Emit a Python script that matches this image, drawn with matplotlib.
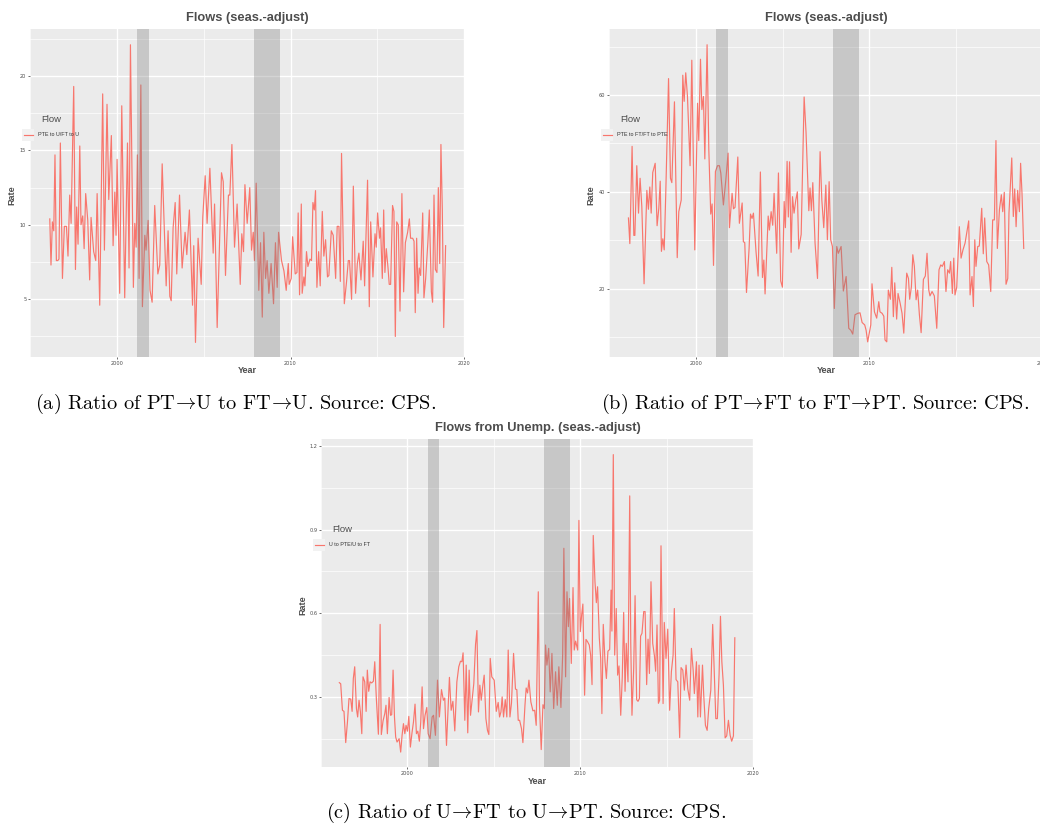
import numpy as np
import matplotlib
matplotlib.use("Agg")
import matplotlib.pyplot as plt
from matplotlib.lines import Line2D
from matplotlib.patches import Rectangle

plt.rcParams["mathtext.fontset"] = "cm"

W, H = 1040, 827

# recessions (NBER)
rec_start = [2001.17, 2007.92]
rec_end = [2001.83, 2009.42]

# (a) PTE to U / FT to U
a_year = [1996.12, 1996.19, 1996.27, 1996.35, 1996.42, 1996.50, 1996.58, 1996.65, 1996.73, 1996.85,
          1996.96, 1997.08, 1997.17, 1997.27, 1997.35, 1997.50, 1997.60, 1997.67, 1997.75, 1997.85,
          1997.92, 1998.02, 1998.10, 1998.19, 1998.31, 1998.42, 1998.50, 1998.65, 1998.77, 1998.85,
          1999.00, 1999.17, 1999.27, 1999.42, 1999.52, 1999.67, 1999.77, 1999.87, 1999.94, 2000.00,
          2000.15, 2000.27, 2000.44, 2000.60, 2000.69, 2000.77, 2000.94, 2001.02, 2001.10, 2001.17,
          2001.27, 2001.37, 2001.46, 2001.60, 2001.67, 2001.79, 2001.90, 2002.02, 2002.17, 2002.35,
          2002.46, 2002.60, 2002.83, 2002.94, 2003.04, 2003.12, 2003.23, 2003.35, 2003.44, 2003.60,
          2003.75, 2003.92, 2004.02, 2004.17, 2004.35, 2004.42, 2004.52, 2004.67, 2004.85, 2004.94,
          2005.08, 2005.19, 2005.35, 2005.54, 2005.62, 2005.77, 2006.02, 2006.12, 2006.25, 2006.42,
          2006.50, 2006.62, 2006.77, 2006.92, 2007.10, 2007.19, 2007.29, 2007.37, 2007.50, 2007.65,
          2007.75, 2007.85, 2007.92, 2008.02, 2008.17, 2008.27, 2008.37, 2008.46, 2008.56, 2008.65,
          2008.75, 2008.88, 2009.02, 2009.13, 2009.23, 2009.31, 2009.48, 2009.62, 2009.75, 2009.87,
          2009.92, 2010.04, 2010.12, 2010.27, 2010.37, 2010.44, 2010.52, 2010.62, 2010.67, 2010.77,
          2010.83, 2010.92, 2011.00, 2011.12, 2011.21, 2011.29, 2011.37, 2011.44, 2011.52, 2011.62,
          2011.71, 2011.83, 2011.92, 2012.02, 2012.13, 2012.21, 2012.35, 2012.46, 2012.60, 2012.69,
          2012.79, 2012.87, 2012.94, 2013.10, 2013.23, 2013.33, 2013.40, 2013.52, 2013.62, 2013.75,
          2013.85, 2013.94, 2014.06, 2014.19, 2014.27, 2014.44, 2014.54, 2014.62, 2014.75, 2014.87,
          2014.94, 2015.02, 2015.13, 2015.19, 2015.29, 2015.37, 2015.44, 2015.52, 2015.62, 2015.69,
          2015.77, 2015.88, 2015.96, 2016.04, 2016.12, 2016.21, 2016.31, 2016.42, 2016.52, 2016.62,
          2016.75, 2016.85, 2016.92, 2017.04, 2017.12, 2017.19, 2017.27, 2017.35, 2017.42, 2017.50,
          2017.62, 2017.69, 2017.79, 2017.92, 2018.00, 2018.12, 2018.19, 2018.27, 2018.35, 2018.44,
          2018.52, 2018.60, 2018.67, 2018.75, 2018.83, 2018.94]
a_rate = [10.4, 7.3, 10.2, 9.6, 14.7, 7.6, 7.6, 7.7, 15.5, 6.4,
          9.9, 9.9, 7.9, 12.0, 10.1, 19.3, 7.0, 11.2, 8.7, 15.3,
          10.0, 10.6, 8.4, 12.1, 10.3, 6.3, 10.5, 8.2, 7.6, 12.1,
          4.6, 18.8, 8.3, 18.1, 11.7, 16.0, 8.6, 12.2, 9.3, 14.4,
          5.4, 18.0, 5.1, 15.5, 7.1, 22.1, 5.8, 10.1, 8.5, 14.7,
          6.4, 19.4, 4.5, 9.3, 8.3, 10.3, 5.6, 4.8, 11.3, 6.7,
          7.3, 14.1, 5.9, 9.6, 5.2, 4.9, 9.8, 11.5, 6.7, 12.0,
          7.1, 9.5, 8.0, 11.0, 4.6, 8.6, 2.1, 9.1, 6.0, 10.5,
          13.3, 10.1, 13.8, 8.1, 11.4, 3.1, 13.5, 12.9, 6.6, 12.0,
          12.0, 15.4, 8.5, 11.4, 6.0, 9.4, 8.2, 12.7, 10.1, 12.5,
          8.3, 9.5, 7.6, 12.8, 5.6, 8.8, 3.8, 9.5, 6.4, 7.6,
          5.4, 7.4, 4.7, 8.8, 5.8, 9.5, 7.6, 6.9, 5.6, 7.4,
          6.0, 6.4, 9.2, 6.7, 6.8, 10.8, 5.3, 11.4, 5.4, 6.5,
          5.9, 8.2, 7.2, 7.7, 7.6, 11.5, 11.0, 12.3, 5.8, 8.2,
          5.9, 10.9, 7.9, 9.0, 6.5, 6.6, 9.6, 9.3, 6.4, 9.9,
          9.9, 6.2, 14.8, 4.7, 6.2, 7.6, 7.6, 5.0, 12.6, 5.4,
          7.4, 8.1, 6.3, 8.9, 5.9, 13.0, 4.5, 10.2, 6.5, 9.4,
          8.5, 10.8, 9.1, 9.8, 6.4, 11.0, 6.8, 8.4, 7.1, 6.0,
          6.0, 11.3, 10.9, 2.5, 10.2, 10.0, 4.2, 12.1, 5.5, 8.8,
          9.5, 10.4, 9.1, 9.1, 8.9, 4.1, 9.1, 5.4, 7.1, 6.6,
          10.8, 5.1, 6.4, 8.9, 11.0, 5.5, 4.8, 12.0, 7.0, 6.8,
          12.5, 7.4, 15.4, 11.0, 3.1, 8.6]

# (b) PTE to FT / FT to PTE
b_year = [1996.12, 1996.20, 1996.33, 1996.43, 1996.49, 1996.60, 1996.70, 1996.79, 1996.89, 1997.02,
          1997.18, 1997.27, 1997.35, 1997.43, 1997.52, 1997.66, 1997.77, 1997.87, 1997.95, 1998.02,
          1998.10, 1998.18, 1998.27, 1998.43, 1998.54, 1998.62, 1998.77, 1998.93, 1999.02, 1999.16,
          1999.25, 1999.33, 1999.42, 1999.52, 1999.67, 1999.77, 1999.94, 2000.10, 2000.17, 2000.27,
          2000.35, 2000.44, 2000.52, 2000.65, 2000.75, 2000.86, 2000.94, 2001.02, 2001.13, 2001.25,
          2001.36, 2001.44, 2001.59, 2001.73, 2001.86, 2001.94, 2002.09, 2002.17, 2002.26, 2002.42,
          2002.51, 2002.67, 2002.74, 2002.82, 2002.92, 2003.07, 2003.15, 2003.24, 2003.32, 2003.47,
          2003.59, 2003.72, 2003.84, 2003.92, 2003.99, 2004.17, 2004.24, 2004.34, 2004.43, 2004.51,
          2004.66, 2004.76, 2004.89, 2004.99, 2005.09, 2005.16, 2005.26, 2005.33, 2005.40, 2005.49,
          2005.57, 2005.66, 2005.76, 2005.85, 2005.93, 2006.07, 2006.24, 2006.35, 2006.51, 2006.58,
          2006.66, 2006.74, 2006.87, 2007.01, 2007.16, 2007.26, 2007.37, 2007.49, 2007.58, 2007.68,
          2007.77, 2007.87, 2007.98, 2008.12, 2008.21, 2008.37, 2008.50, 2008.66, 2008.81, 2008.93,
          2009.04, 2009.17, 2009.33, 2009.46, 2009.58, 2009.73, 2009.81, 2009.90, 2010.02, 2010.08,
          2010.15, 2010.29, 2010.42, 2010.54, 2010.61, 2010.73, 2010.83, 2010.90, 2011.00, 2011.09,
          2011.21, 2011.29, 2011.38, 2011.46, 2011.57, 2011.65, 2011.77, 2011.88, 2011.98, 2012.15,
          2012.25, 2012.32, 2012.42, 2012.50, 2012.59, 2012.69, 2012.78, 2012.88, 2012.98, 2013.11,
          2013.22, 2013.32, 2013.42, 2013.49, 2013.61, 2013.74, 2013.88, 2014.01, 2014.11, 2014.20,
          2014.32, 2014.41, 2014.51, 2014.61, 2014.68, 2014.78, 2014.86, 2014.93, 2015.03, 2015.11,
          2015.18, 2015.28, 2015.39, 2015.51, 2015.60, 2015.72, 2015.80, 2015.91, 2015.99, 2016.07,
          2016.14, 2016.24, 2016.33, 2016.47, 2016.56, 2016.64, 2016.76, 2016.87, 2016.99, 2017.10,
          2017.20, 2017.29, 2017.37, 2017.49, 2017.60, 2017.68, 2017.77, 2017.87, 2017.97, 2018.04,
          2018.20, 2018.29, 2018.37, 2018.45, 2018.54, 2018.64, 2018.71, 2018.79, 2018.89]
b_rate = [34.6, 29.3, 49.4, 31.0, 31.0, 45.4, 35.6, 42.8, 37.0, 21.0,
          40.3, 36.4, 41.0, 35.6, 44.0, 45.9, 33.0, 36.6, 42.2, 27.7,
          30.3, 28.0, 39.7, 63.4, 42.8, 41.9, 58.6, 26.4, 35.9, 38.3,
          64.1, 58.7, 64.6, 59.7, 45.4, 67.2, 28.0, 58.3, 50.6, 67.4,
          57.0, 59.7, 46.8, 70.4, 48.7, 35.4, 37.5, 24.8, 44.2, 45.4,
          45.4, 43.9, 37.3, 42.5, 48.0, 32.6, 39.7, 36.5, 36.8, 47.2,
          33.5, 37.7, 29.7, 29.5, 19.2, 28.3, 35.4, 34.5, 35.6, 27.6,
          22.6, 44.1, 22.3, 25.9, 18.9, 35.0, 32.1, 35.9, 33.1, 39.7,
          27.3, 43.9, 21.6, 20.3, 38.0, 32.6, 46.3, 34.8, 46.2, 27.5,
          39.0, 35.6, 38.3, 40.0, 28.2, 31.2, 59.6, 52.3, 36.1, 40.8,
          36.1, 41.9, 29.4, 22.1, 48.3, 38.3, 32.6, 41.4, 30.1, 42.1,
          30.1, 28.7, 15.9, 28.7, 27.3, 28.7, 19.5, 22.5, 11.8, 11.4,
          10.6, 14.6, 14.9, 15.0, 13.0, 12.5, 11.4, 9.0, 11.4, 12.5,
          21.0, 15.2, 13.9, 17.3, 15.2, 14.9, 14.3, 9.4, 9.0, 19.7,
          17.8, 24.4, 14.2, 21.2, 13.7, 19.0, 17.0, 14.9, 10.8, 23.2,
          22.1, 17.8, 20.4, 27.0, 24.6, 17.7, 19.7, 14.6, 10.9, 21.9,
          22.6, 27.3, 19.7, 18.5, 19.4, 18.5, 11.8, 23.9, 24.9, 24.6,
          25.6, 19.4, 23.9, 23.2, 25.6, 19.0, 26.3, 18.7, 20.3, 27.0,
          32.8, 26.3, 28.0, 29.4, 31.4, 34.0, 18.7, 22.5, 16.3, 30.1,
          24.6, 28.7, 28.8, 36.6, 27.2, 34.6, 25.6, 24.9, 19.4, 34.2,
          34.2, 50.6, 28.3, 36.3, 39.4, 35.9, 39.9, 20.9, 22.1, 35.6,
          47.0, 34.9, 40.6, 32.8, 40.3, 35.9, 45.9, 39.7, 28.3]

# (c) U to PTE / U to FT
c_year = [1996.06, 1996.14, 1996.24, 1996.33, 1996.43, 1996.53, 1996.62, 1996.72, 1996.80, 1996.87,
          1996.95, 1997.05, 1997.12, 1997.20, 1997.28, 1997.36, 1997.43, 1997.53, 1997.61, 1997.68,
          1997.76, 1997.84, 1997.93, 1998.03, 1998.11, 1998.20, 1998.32, 1998.42, 1998.49, 1998.59,
          1998.69, 1998.76, 1998.84, 1998.94, 1999.02, 1999.09, 1999.17, 1999.25, 1999.32, 1999.40,
          1999.52, 1999.61, 1999.69, 1999.77, 1999.85, 1999.92, 2000.00, 2000.08, 2000.17, 2000.27,
          2000.35, 2000.44, 2000.52, 2000.60, 2000.69, 2000.77, 2000.85, 2000.93, 2001.02, 2001.12,
          2001.20, 2001.31, 2001.43, 2001.51, 2001.62, 2001.74, 2001.85, 2001.97, 2002.08, 2002.16,
          2002.26, 2002.43, 2002.53, 2002.63, 2002.74, 2002.86, 2002.97, 2003.07, 2003.15, 2003.22,
          2003.32, 2003.40, 2003.49, 2003.57, 2003.65, 2003.75, 2003.84, 2003.94, 2004.02, 2004.11,
          2004.19, 2004.27, 2004.36, 2004.44, 2004.54, 2004.63, 2004.71, 2004.79, 2004.88, 2005.02,
          2005.14, 2005.25, 2005.33, 2005.41, 2005.48, 2005.56, 2005.66, 2005.75, 2005.83, 2005.93,
          2006.02, 2006.14, 2006.25, 2006.33, 2006.41, 2006.49, 2006.60, 2006.68, 2006.80, 2006.87,
          2006.95, 2007.03, 2007.14, 2007.26, 2007.36, 2007.45, 2007.57, 2007.64, 2007.74, 2007.84,
          2007.92, 2007.99, 2008.07, 2008.17, 2008.26, 2008.36, 2008.46, 2008.57, 2008.67, 2008.76,
          2008.88, 2008.98, 2009.05, 2009.15, 2009.23, 2009.31, 2009.38, 2009.48, 2009.58, 2009.65,
          2009.73, 2009.85, 2009.92, 2010.00, 2010.08, 2010.15, 2010.25, 2010.33, 2010.42, 2010.52,
          2010.60, 2010.68, 2010.75, 2010.85, 2010.93, 2011.00, 2011.10, 2011.18, 2011.25, 2011.33,
          2011.43, 2011.51, 2011.60, 2011.70, 2011.78, 2011.83, 2011.91, 2011.99, 2012.08, 2012.16,
          2012.24, 2012.34, 2012.43, 2012.51, 2012.59, 2012.66, 2012.76, 2012.86, 2012.92, 2012.99,
          2013.09, 2013.17, 2013.26, 2013.34, 2013.42, 2013.49, 2013.57, 2013.67, 2013.75, 2013.84,
          2013.92, 2014.00, 2014.09, 2014.19, 2014.29, 2014.36, 2014.44, 2014.52, 2014.59, 2014.67,
          2014.79, 2014.86, 2014.96, 2015.06, 2015.17, 2015.27, 2015.37, 2015.44, 2015.54, 2015.64,
          2015.75, 2015.83, 2015.93, 2016.02, 2016.12, 2016.22, 2016.33, 2016.43, 2016.53, 2016.60,
          2016.72, 2016.80, 2016.87, 2016.95, 2017.07, 2017.14, 2017.24, 2017.34, 2017.43, 2017.55,
          2017.66, 2017.74, 2017.84, 2017.93, 2018.03, 2018.11, 2018.19, 2018.28, 2018.38, 2018.47,
          2018.57, 2018.67, 2018.76, 2018.86, 2018.94]
c_rate = [0.351, 0.347, 0.252, 0.248, 0.136, 0.210, 0.294, 0.292, 0.248, 0.366,
          0.408, 0.258, 0.228, 0.288, 0.246, 0.168, 0.372, 0.354, 0.248, 0.396,
          0.320, 0.354, 0.350, 0.356, 0.426, 0.296, 0.166, 0.560, 0.165, 0.214,
          0.240, 0.270, 0.168, 0.298, 0.234, 0.236, 0.396, 0.228, 0.156, 0.138,
          0.150, 0.102, 0.162, 0.204, 0.168, 0.198, 0.177, 0.230, 0.120, 0.174,
          0.210, 0.274, 0.168, 0.177, 0.141, 0.210, 0.336, 0.186, 0.234, 0.262,
          0.168, 0.150, 0.228, 0.234, 0.162, 0.360, 0.228, 0.326, 0.288, 0.296,
          0.126, 0.370, 0.252, 0.284, 0.178, 0.354, 0.408, 0.428, 0.426, 0.458,
          0.216, 0.414, 0.171, 0.396, 0.234, 0.294, 0.348, 0.488, 0.538, 0.246,
          0.342, 0.288, 0.340, 0.378, 0.222, 0.180, 0.165, 0.438, 0.372, 0.360,
          0.248, 0.280, 0.228, 0.246, 0.300, 0.228, 0.290, 0.228, 0.468, 0.228,
          0.278, 0.456, 0.328, 0.326, 0.216, 0.216, 0.186, 0.136, 0.270, 0.332,
          0.314, 0.360, 0.282, 0.250, 0.252, 0.198, 0.677, 0.270, 0.111, 0.272,
          0.258, 0.486, 0.414, 0.474, 0.318, 0.456, 0.258, 0.390, 0.270, 0.408,
          0.262, 0.450, 0.833, 0.372, 0.677, 0.552, 0.653, 0.420, 0.692, 0.468,
          0.500, 0.468, 0.933, 0.534, 0.594, 0.633, 0.306, 0.506, 0.498, 0.486,
          0.450, 0.344, 0.879, 0.713, 0.638, 0.695, 0.512, 0.438, 0.240, 0.560,
          0.426, 0.366, 0.464, 0.470, 0.683, 0.536, 1.169, 0.450, 0.617, 0.378,
          0.411, 0.234, 0.372, 0.603, 0.320, 0.492, 0.354, 1.021, 0.494, 0.234,
          0.402, 0.663, 0.290, 0.284, 0.294, 0.518, 0.528, 0.606, 0.606, 0.344,
          0.507, 0.384, 0.713, 0.492, 0.447, 0.392, 0.558, 0.277, 0.288, 0.842,
          0.276, 0.567, 0.438, 0.543, 0.252, 0.390, 0.450, 0.617, 0.362, 0.354,
          0.154, 0.405, 0.396, 0.324, 0.414, 0.329, 0.288, 0.474, 0.396, 0.312,
          0.426, 0.228, 0.414, 0.228, 0.414, 0.308, 0.198, 0.180, 0.258, 0.324,
          0.560, 0.414, 0.222, 0.222, 0.381, 0.589, 0.426, 0.342, 0.153, 0.160,
          0.216, 0.162, 0.141, 0.160, 0.512]

panels = [
    dict(x=a_year, y=a_rate, box=(30, 29, 464, 357), xlim=(1994.98, 2020.0), ylim=(1.12, 23.16),
         yt=[5, 10, 15, 20], ym=[2.5, 7.5, 12.5, 17.5, 22.5], ylab=["5", "10", "15", "20"],
         title="Flows (seas.-adjust)", legend="PTE to U/FT to U", flow_x=41),
    dict(x=b_year, y=b_rate, box=(609, 29, 1043, 357), xlim=(1995.0, 2020.0), ylim=(5.87, 73.65),
         yt=[20, 40, 60], ym=[10, 30, 50, 70], ylab=["20", "40", "60"],
         title="Flows (seas.-adjust)", legend="PTE to FT/FT to PTE", flow_x=620),
    dict(x=c_year, y=c_rate, box=(321, 439, 754, 767), xlim=(1995.0, 2020.05), ylim=(0.0485, 1.225),
         yt=[0.3, 0.6, 0.9, 1.2], ym=[0.15, 0.45, 0.75, 1.05], ylab=["0.3", "0.6", "0.9", "1.2"],
         title="Flows from Unemp. (seas.-adjust)", legend="U to PTE/U to FT", flow_x=332),
]

arr = r"$\!\rightarrow\!$"
captions = ["(a) Ratio of PT" + arr + "U to FT" + arr + "U. Source: CPS.",
            "(b) Ratio of PT" + arr + "FT to FT" + arr + "PT. Source: CPS.",
            "(c) Ratio of U" + arr + "FT to U" + arr + "PT. Source: CPS."]
cap_pos = [(236, 404), (815, 404), (526, 813)]

line_col = "#F8766D"
sans = ["Liberation Sans", "DejaVu Sans"]


def fx(px):
    return px / W


def fy(py):
    return 1 - py / H


fig = plt.figure(figsize=(W / 100, H / 100), dpi=100)
fig.patch.set_facecolor("white")

for p in panels:
    x0, y0, x1, y1 = p["box"]
    ax = fig.add_axes([fx(x0), fy(y1), (x1 - x0) / W, (y1 - y0) / H])
    ax.set_facecolor("#EBEBEB")
    for s in ax.spines.values():
        s.set_visible(False)
    ax.set_xlim(*p["xlim"])
    ax.set_ylim(*p["ylim"])
    ax.set_xticks([2000, 2010, 2020])
    ax.set_xticklabels(["2000", "2010", "2020"])
    ax.set_xticks([1995, 2005, 2015], minor=True)
    ax.set_yticks(p["yt"])
    ax.set_yticklabels(p["ylab"])
    ax.set_yticks(p["ym"], minor=True)
    ax.grid(which="major", color="white", lw=1.0)
    ax.grid(which="minor", color="white", lw=0.5)
    ax.set_axisbelow(True)
    ax.tick_params(which="major", length=1.5, width=0.5, color="#333333", labelsize=3.6,
                   labelcolor="#4D4D4D", pad=1.2)
    ax.tick_params(which="minor", length=0)
    ax.plot(p["x"], p["y"], color=line_col, lw=0.85, zorder=2)
    for s, e in zip(rec_start, rec_end):
        ax.axvspan(s, e, color="#7F7F7F", alpha=0.33, lw=0, zorder=3)

    fig.text(fx((x0 + x1) / 2), fy(y0 - 11), p["title"], ha="center", va="center",
             fontsize=9.3, fontweight="bold", color="#4D4D4D", family=sans)
    fig.text(fx((x0 + x1) / 2), fy(y1 + 14), "Year", ha="center", va="center",
             fontsize=6.5, fontweight="bold", color="#4D4D4D", family=sans)
    fig.text(fx(x0 - 18), fy((y0 + y1) / 2 + 2), "Rate", ha="center", va="center", rotation=90,
             fontsize=6.5, fontweight="bold", color="#4D4D4D", family=sans)

    # legend
    lx = p["flow_x"]
    ly = y0 + 91
    fig.text(fx(lx), fy(ly), "Flow", ha="left", va="center", fontsize=6.8,
             color="#4D4D4D", family=sans)
    kx = lx - 19
    fig.add_artist(Rectangle((fx(kx), fy(ly + 21)), 12 / W, 12 / H, transform=fig.transFigure,
                             facecolor="#F2F2F2", edgecolor="none", zorder=5))
    fig.add_artist(Line2D([fx(kx + 1.5), fx(kx + 10.5)], [fy(ly + 15), fy(ly + 15)],
                          transform=fig.transFigure, color=line_col, lw=0.85, zorder=6))
    fig.text(fx(kx + 16), fy(ly + 15), p["legend"], ha="left", va="center", fontsize=3.9,
             color="#333333", family=sans, zorder=6)

for c, (cx, cy) in zip(captions, cap_pos):
    fig.text(fx(cx), fy(cy), c, ha="center", va="center", fontsize=14.6, family="cmr10",
             color="black")

fig.savefig("out.png", dpi=100, facecolor="white")
